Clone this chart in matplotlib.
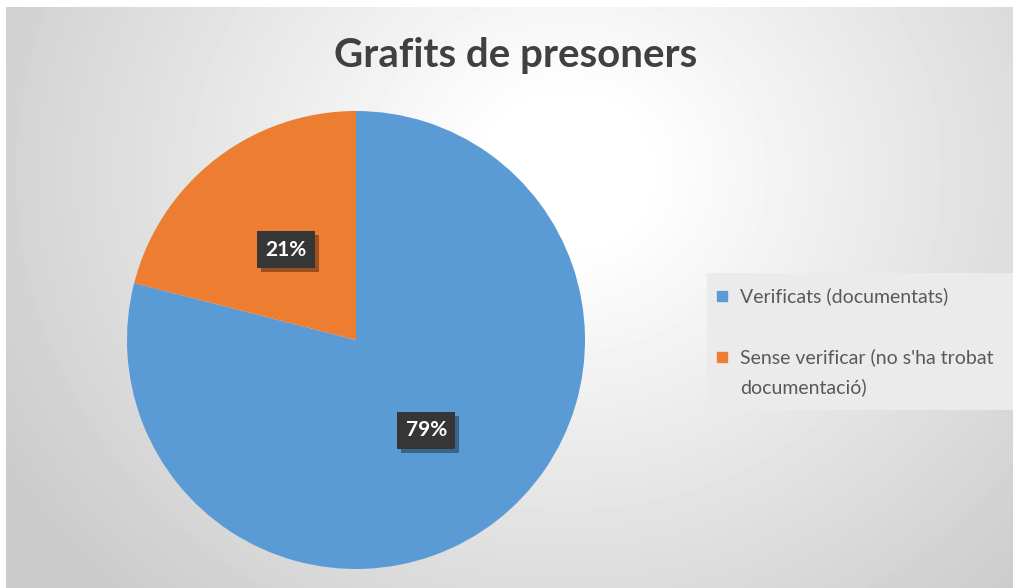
import matplotlib.pyplot as plt
from matplotlib.lines import Line2D
from matplotlib.patches import Rectangle
import matplotlib.patheffects as pe
import numpy as np

# Data
labels = ['Verificats (documentats)',
          "Sense verificar (no s'ha trobat\ndocumentació)"]
values = [79, 21]
colors = ['#5b9bd5', '#ed7d31']

plt.rcParams['font.family'] = ['Lato', 'DejaVu Sans']

W, H = 1013, 588
fig = plt.figure(figsize=(W / 100, H / 100), dpi=100, facecolor='white')

# Radial grey background
bg = fig.add_axes([6 / W, 0, 1 - 6 / W, 1 - 7 / H])
yy, xx = np.mgrid[0:581, 0:1007]
d = np.sqrt((xx - 560) ** 2 + ((yy - 165) / 0.9) ** 2)
shade = 1.0 - 0.2 * np.clip((d - 80) / 560, 0, 1)
bg.imshow(shade, cmap='gray', vmin=0, vmax=1, aspect='auto', interpolation='bilinear')
bg.axis('off')

# Pie
cx, cy, r = 356, 588 - 340, 229
ax = fig.add_axes([(cx - r) / W, (cy - r) / H, 2 * r / W, 2 * r / H])
wedges, texts, autotexts = ax.pie(values, colors=colors, startangle=90, counterclock=False,
                                  autopct='%1.0f%%', pctdistance=0.5,
                                  wedgeprops=dict(linewidth=0))
for t in autotexts:
    t.set_color('white')
    t.set_fontweight('bold')
    t.set_fontsize(15)
    t.set_bbox(dict(boxstyle='square,pad=0.4', facecolor='#363636', edgecolor='none'))
    # drop shadow on the label box
    t.get_bbox_patch().set_path_effects([
        pe.SimplePatchShadow(offset=(3, -3), shadow_rgbFace='black', alpha=0.35),
        pe.Normal()])
ax.set_xlim(-1, 1)
ax.set_ylim(-1, 1)
ax.set_aspect('equal')

# Title
fig.text(516 / W, 1 - 55 / H, 'Grafits de presoners', ha='center', va='center',
         fontsize=29, fontweight='bold', color='#404040')

# Legend (drawn by hand so the marker sits on the first line of a wrapped label)
fig.add_artist(Rectangle((707 / W, 1 - 410 / H), (W - 707) / W, 137 / H,
                         transform=fig.transFigure, facecolor='#ebebeb',
                         edgecolor='none'))
legend_rows = [296, 357]
for lab, col, row in zip(labels, colors, legend_rows):
    fig.add_artist(Line2D([722 / W], [1 - row / H], marker='s', markersize=7,
                          color=col, linestyle='', transform=fig.transFigure))
    fig.text(740 / W, 1 - (row - 9) / H, lab, ha='left', va='top', fontsize=14,
             color='#595959', linespacing=1.85)

fig.savefig('out.png', dpi=100, facecolor='white')
